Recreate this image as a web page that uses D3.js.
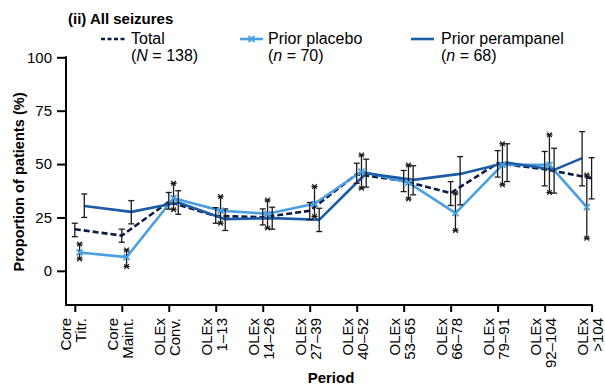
<!DOCTYPE html>
<html>
<head>
<meta charset="utf-8">
<script src="https://cdn.jsdelivr.net/npm/d3@7/dist/d3.min.js"></script>
<style>
  html, body { margin: 0; padding: 0; background: #fff; }
  svg { display: block; font-family: "Liberation Sans", Arial, sans-serif; }
</style>
</head>
<body>
<svg id="chart" width="605" height="387"></svg>
<script>
// ---- data ----
const categories = ["Core|Titr.", "Core|Maint.", "OLEx|Conv.", "OLEx|1–13", "OLEx|14–26", "OLEx|27–39",
  "OLEx|40–52", "OLEx|53–65", "OLEx|66–78", "OLEx|79–91", "OLEx|92–104", "OLEx|>104"];

const totalValues = [19.5, 16.5, 32.3, 25.7, 25.1, 28.1, 45.3, 42.1, 36.4, 50.4, 47.6, 43.4];
const totalLow    = [16.0, 13.4, 28.9, 22.3, 21.5, 23.9, 41.0, 37.1, 30.6, 43.9, 39.8, 33.7];
const totalHigh   = [22.3, 19.5, 36.7, 29.6, 29.0, 32.0, 50.4, 47.0, 41.8, 56.3, 55.9, 53.0];

const placeboValues = [8.6, 6.4, 34.0, 28.2, 26.7, 31.4, 46.5, 41.3, 27.0, 49.6, 49.6, 29.8];
const placeboLow    = [5.5, 2.0, 28.6, 22.3, 20.0, 25.4, 38.7, 33.6, 18.9, 40.3, 36.7, 15.3];
const placeboHigh   = [12.6, 9.8, 41.0, 34.8, 33.2, 39.5, 54.3, 49.6, 36.4, 59.5, 63.7, 44.9];

const perampanelValues = [30.4, 27.6, 32.0, 24.2, 24.7, 23.9, 45.7, 42.6, 45.4, 50.7, 47.3, 52.8];
const perampanelLow    = [25.0, 22.0, 26.5, 18.9, 19.5, 18.4, 39.2, 35.6, 30.9, 41.8, 36.4, 39.8];
const perampanelHigh   = [36.0, 32.9, 37.5, 29.0, 29.8, 29.3, 52.3, 49.2, 53.5, 59.5, 57.4, 65.2];

const yTicks = [0, 25, 50, 75, 100];
const legendNames = ["Total", "Prior placebo", "Prior perampanel"];
const legendCounts = [["N", " = 138)"], ["n", " = 70)"], ["n", " = 68)"]];

// ---- styles ----
const colTotal = "#0c1a47";
const colPlacebo = "#4a9fe0";
const colPeram = "#1c5ba6";
const colErr = "#1a1a1a";

const svg = d3.select("#chart");

const x = d3.scalePoint().domain(categories).range([74.8, 591.6]);
const y = d3.scaleLinear().domain([-16, 100]).range([305, 57.3]);

const series = [
  { key: "total", vals: totalValues, lo: totalLow, hi: totalHigh, color: colTotal, off: 0, dash: "6,3", xcap: false },
  { key: "placebo", vals: placeboValues, lo: placeboLow, hi: placeboHigh, color: colPlacebo, off: 4.8, dash: null, xcap: true },
  { key: "peram", vals: perampanelValues, lo: perampanelLow, hi: perampanelHigh, color: colPeram, off: 9.5, dash: null, xcap: false }
];
const last = categories.length - 1;
const px = (s, i) => x(categories[i]) + (i === last ? -s.off : s.off);

// ---- axes ----
const axisG = svg.append("g");
const yAxisX = 66;
axisG.append("line").attr("x1", yAxisX).attr("x2", yAxisX).attr("y1", y(100) - 1).attr("y2", y(-16) + 1)
  .attr("stroke", "#000").attr("stroke-width", 2);
const yAxis = d3.axisLeft(y).tickValues(yTicks).tickSize(9).tickPadding(5);
const yg = svg.append("g").attr("transform", `translate(${yAxisX},0)`).call(yAxis);
yg.select(".domain").remove();
yg.selectAll(".tick line").attr("stroke", "#000").attr("stroke-width", 2);
yg.selectAll(".tick text").attr("font-size", 15).attr("fill", "#000").attr("font-family", "Liberation Sans, Arial, sans-serif");

axisG.append("line").attr("x1", yAxisX - 1).attr("x2", x(categories[last]) + 1).attr("y1", y(-16)).attr("y2", y(-16))
  .attr("stroke", "#000").attr("stroke-width", 2);
const xAxis = d3.axisBottom(x).tickSize(7).tickFormat("");
const xg = svg.append("g").attr("transform", `translate(0,${y(-16)})`).call(xAxis);
xg.select(".domain").remove();
xg.selectAll(".tick line").attr("stroke", "#000").attr("stroke-width", 2);

// x tick labels rotated (two lines)
const xl = svg.append("g").selectAll("text").data(categories).join("text")
  .attr("transform", d => `translate(${x(d)},318) rotate(-90)`)
  .attr("text-anchor", "end")
  .attr("font-size", 15)
  .attr("fill", "#000");
xl.append("tspan").attr("x", 0).attr("y", -4).text(d => d.split("|")[0]);
xl.append("tspan").attr("x", 0).attr("y", 11).text(d => d.split("|")[1]);

// axis titles
svg.append("text").attr("x", 331).attr("y", 383).attr("text-anchor", "middle")
  .attr("font-size", 15).attr("font-weight", "bold").text("Period");
svg.append("text").attr("transform", `translate(24,182) rotate(-90)`).attr("text-anchor", "middle")
  .attr("font-size", 14.6).attr("font-weight", "bold").text("Proportion of patients (%)");

// title
svg.append("text").attr("x", 68).attr("y", 24).attr("font-size", 15).attr("font-weight", "bold").text("(ii) All seizures");

// ---- lines ----
series.forEach(s => {
  const line = d3.line().x((d, i) => px(s, i)).y(d => y(d));
  svg.append("path").datum(s.vals).attr("d", line)
    .attr("fill", "none").attr("stroke", s.color).attr("stroke-width", 2.6)
    .attr("stroke-dasharray", s.dash).attr("stroke-linejoin", "round");
});

// ---- error bars ----
function xMark(g, cx, cy, r, color, w) {
  g.append("path").attr("d", `M${cx - r},${cy - r}L${cx + r},${cy + r}M${cx - r},${cy + r}L${cx + r},${cy - r}`)
    .attr("stroke", color).attr("stroke-width", w).attr("fill", "none");
}
const eg = svg.append("g");
series.forEach(s => {
  s.vals.forEach((v, i) => {
    const cx = px(s, i);
    const y1 = y(s.hi[i]), y2 = y(s.lo[i]);
    eg.append("line").attr("x1", cx).attr("x2", cx).attr("y1", y1).attr("y2", y2)
      .attr("stroke", colErr).attr("stroke-width", 1.3);
    [y1, y2].forEach(yy => {
      eg.append("line").attr("x1", cx - 3).attr("x2", cx + 3).attr("y1", yy).attr("y2", yy)
        .attr("stroke", colErr).attr("stroke-width", 1.3);
      if (s.xcap) xMark(eg, cx, yy, 2.3, colErr, 1.2);
    });
  });
});
const pl = series[1];
pl.vals.forEach((v, i) => xMark(svg, px(pl, i), y(v), 3, colPlacebo, 1.8));

// ---- legend ----
const leg = svg.append("g");
const legX = [101, 240, 411];
const legTextX = [131, 268, 441];
const legColors = [colTotal, colPlacebo, colPeram];
legX.forEach((lx, k) => {
  leg.append("line").attr("x1", lx).attr("x2", lx + (k === 0 ? 26 : 23)).attr("y1", 39).attr("y2", 39)
    .attr("stroke", legColors[k]).attr("stroke-width", 2.6)
    .attr("stroke-dasharray", k === 0 ? "4,2.5" : null);
  if (k === 1) xMark(leg, lx + 11.5, 39, 3, colPlacebo, 1.8);
  leg.append("text").attr("x", legTextX[k]).attr("y", 43.5).attr("font-size", 16).text(legendNames[k]);
  const t = leg.append("text").attr("x", legTextX[k]).attr("y", 61).attr("font-size", 16);
  t.append("tspan").text("(");
  t.append("tspan").attr("font-style", "italic").text(legendCounts[k][0]);
  t.append("tspan").text(legendCounts[k][1]);
});
</script>
</body>
</html>
